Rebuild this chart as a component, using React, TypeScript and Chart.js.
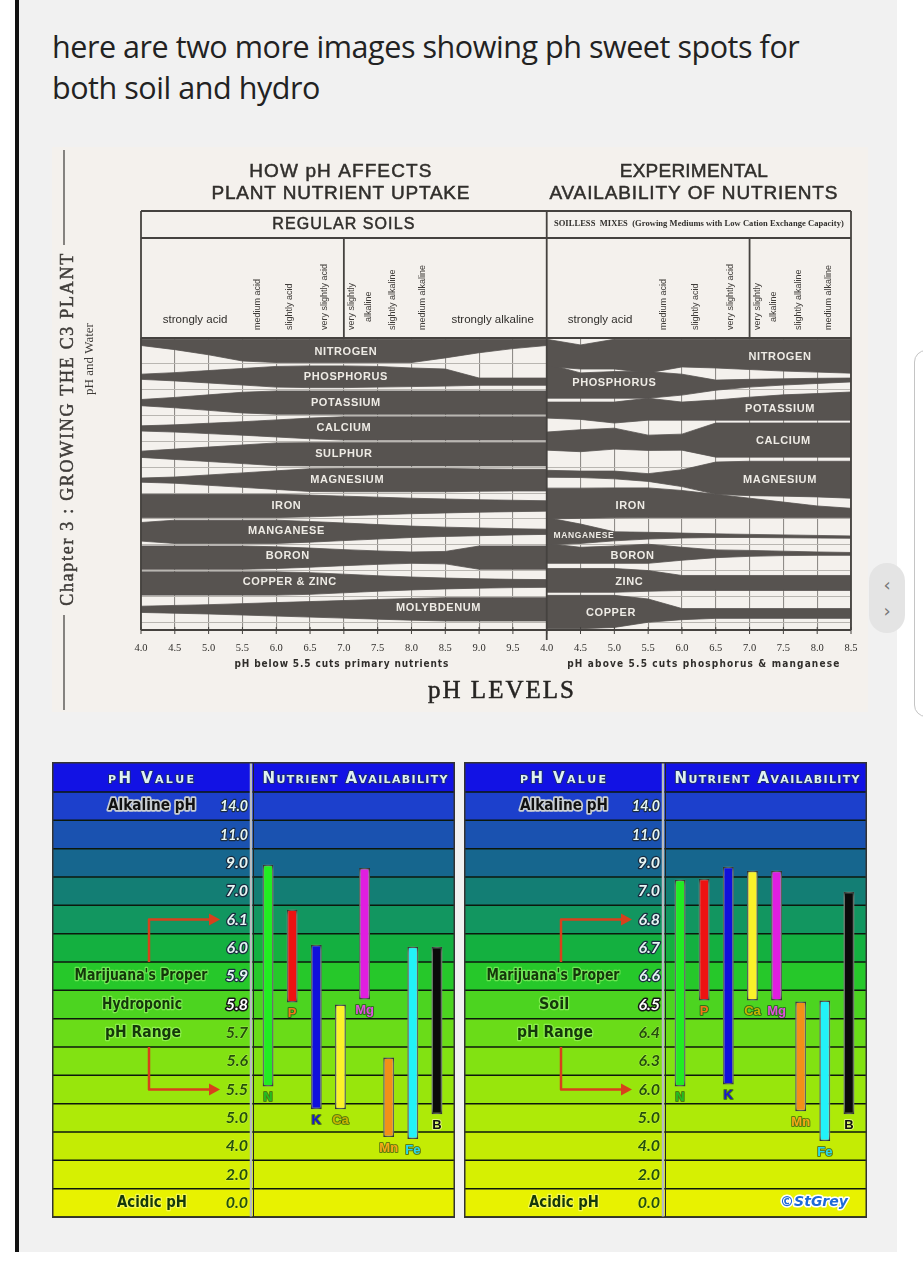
import React, { useEffect, useRef } from "react";
import { Chart, registerables } from "chart.js";
Chart.register(...registerables);

// ================= TOP CHART DATA =================
const SOIL_PH = [4.0, 4.5, 5.0, 5.5, 6.0, 6.5, 7.0, 7.5, 8.0, 8.5, 9.0, 9.5, 10.0];
const MIX_PH = [4.0, 4.5, 5.0, 5.5, 6.0, 6.5, 7.0, 7.5, 8.0, 8.5];
const SOIL_TICKS = ["4.0", "4.5", "5.0", "5.5", "6.0", "6.5", "7.0", "7.5", "8.0", "8.5", "9.0", "9.5"];
const MIX_TICKS = ["4.0", "4.5", "5.0", "5.5", "6.0", "6.5", "7.0", "7.5", "8.0", "8.5"];

const SOIL_NUTRIENTS = ["NITROGEN", "PHOSPHORUS", "POTASSIUM", "CALCIUM", "SULPHUR", "MAGNESIUM", "IRON", "MANGANESE", "BORON", "COPPER & ZINC", "MOLYBDENUM"];
// half thickness of each band (row units) at each SOIL_PH point
const soilN = [0.12, 0.2, 0.3, 0.42, 0.45, 0.45, 0.45, 0.45, 0.45, 0.36, 0.26, 0.18, 0.12];
const soilP = [0.1, 0.16, 0.24, 0.32, 0.4, 0.42, 0.42, 0.4, 0.36, 0.33, 0.14, 0.14, 0.14];
const soilK = [0.12, 0.2, 0.3, 0.4, 0.45, 0.45, 0.45, 0.45, 0.45, 0.45, 0.45, 0.45, 0.45];
const soilCa = [0.1, 0.14, 0.2, 0.26, 0.33, 0.4, 0.45, 0.45, 0.45, 0.45, 0.45, 0.45, 0.45];
const soilS = [0.12, 0.2, 0.28, 0.36, 0.44, 0.45, 0.45, 0.45, 0.45, 0.45, 0.45, 0.45, 0.45];
const soilMg = [0.08, 0.12, 0.2, 0.28, 0.36, 0.44, 0.45, 0.45, 0.45, 0.45, 0.43, 0.42, 0.42];
const soilFe = [0.45, 0.45, 0.45, 0.45, 0.45, 0.42, 0.38, 0.34, 0.3, 0.27, 0.24, 0.22, 0.2];
const soilMn = [0.36, 0.45, 0.45, 0.45, 0.45, 0.4, 0.34, 0.28, 0.22, 0.18, 0.15, 0.12, 0.1];
const soilB = [0.45, 0.45, 0.45, 0.45, 0.42, 0.37, 0.31, 0.26, 0.22, 0.24, 0.45, 0.45, 0.45];
const soilCuZn = [0.45, 0.45, 0.45, 0.45, 0.45, 0.42, 0.36, 0.3, 0.25, 0.21, 0.18, 0.16, 0.15];
const soilMo = [0.12, 0.15, 0.18, 0.22, 0.26, 0.3, 0.34, 0.38, 0.42, 0.45, 0.45, 0.45, 0.45];
// offset of band centre from the row centre (row units, + = down)
const soilNShift = [-0.33, -0.25, -0.15, -0.03, 0, 0, 0, 0, 0, -0.09, -0.19, -0.27, -0.33];
const soilPShift = [0, 0, 0, 0, 0, 0, 0, 0, 0.02, 0.03, 0.19, 0.19, 0.19];

const MIX_NUTRIENTS = ["NITROGEN", "PHOSPHORUS", "POTASSIUM", "CALCIUM", "MAGNESIUM", "IRON", "MANGANESE", "BORON", "ZINC", "COPPER"];
// upper / lower edges of each band (row units from the top) at each MIX_PH point
const mixNTop = [0.05, 0.27, 0.05, 0.05, 0.05, 0.05, 0.05, 0.05, 0.05, 0.05];
const mixNBot = [1.1, 1.2, 1.2, 1.35, 1.12, 1.16, 1.22, 1.28, 1.32, 1.36];
const mixPTop = [1.0, 1.35, 1.3, 1.3, 1.4, 1.63, 1.6, 1.58, 1.56, 1.55];
const mixPBot = [2.33, 2.33, 2.33, 2.33, 2.21, 2.02, 1.9, 1.82, 1.76, 1.7];
const mixKTop = [2.48, 2.48, 2.48, 2.33, 2.48, 2.4, 2.29, 2.2, 2.15, 2.09];
const mixKBot = [3.1, 3.15, 3.29, 3.18, 3.18, 3.18, 3.18, 3.18, 3.18, 3.18];
const mixCaTop = [3.64, 3.55, 3.49, 3.76, 3.72, 3.29, 3.29, 3.29, 3.29, 3.29];
const mixCaBot = [4.34, 4.4, 4.3, 4.35, 4.34, 4.61, 4.61, 4.61, 4.61, 4.61];
const mixMgTop = [5.12, 5.15, 5.15, 5.25, 5.1, 4.8, 4.77, 4.77, 4.77, 4.77];
const mixMgBot = [5.39, 5.4, 5.45, 5.55, 5.75, 6.05, 6.1, 6.12, 6.15, 6.2];
const mixFeTop = [5.81, 5.81, 5.8, 5.8, 5.9, 6.05, 6.2, 6.35, 6.5, 6.59];
const mixFeBot = [7.0, 6.98, 6.96, 6.95, 6.95, 6.95, 6.95, 6.95, 6.95, 6.95];
const mixMnTop = [6.95, 7.2, 7.5, 7.52, 7.55, 7.58, 7.6, 7.62, 7.64, 7.66];
const mixMnBot = [8.0, 7.95, 7.85, 7.78, 7.74, 7.72, 7.72, 7.73, 7.74, 7.75];
const mixBTop = [7.95, 8.1, 8.05, 7.98, 8.1, 8.2, 8.22, 8.25, 8.28, 8.3];
const mixBBot = [8.72, 8.72, 8.72, 8.72, 8.6, 8.5, 8.45, 8.42, 8.41, 8.41];
const mixZnTop = [8.92, 8.92, 8.92, 9.0, 9.19, 9.19, 9.19, 9.19, 9.19, 9.19];
const mixZnBot = [9.84, 9.84, 9.84, 9.8, 9.77, 9.77, 9.77, 9.77, 9.77, 9.77];
const mixCuTop = [9.96, 9.96, 9.96, 10.1, 10.47, 10.47, 10.47, 10.47, 10.47, 10.47];
const mixCuBot = [11.25, 11.25, 11.2, 11.0, 10.9, 10.85, 10.85, 10.85, 10.85, 10.85];

// label anchors (pH, row)
const soilLabelPH = [7.03, 7.03, 7.03, 7.0, 7.0, 7.05, 6.15, 6.15, 6.17, 6.2, 8.4];
const soilLabelRow = [0.55, 1.5, 2.5, 3.5, 4.5, 5.5, 6.5, 7.45, 8.45, 9.45, 10.45];
const mixLabelPH = [7.45, 5.0, 7.45, 7.5, 7.45, 5.24, 4.55, 5.27, 5.22, 4.95];
const mixLabelRow = [0.74, 1.74, 2.75, 4.0, 5.5, 6.5, 7.64, 8.45, 9.46, 10.66];

const SOIL_ZONES = ["medium acid", "slightly acid", "very slightly acid", "very slightly", "alkaline", "slightly alkaline", "medium alkaline"];
const ZONE_PH = [5.72, 6.2, 6.72, 7.12, 7.36, 7.72, 8.17];

// ================= BOTTOM PANELS DATA =================
const NUTRIENT_CODES = ["N", "P", "K", "Ca", "Mg", "Mn", "Fe", "B"];
const HYDRO_ROWS = ["0.0", "2.0", "4.0", "5.0", "5.5", "5.6", "5.7", "5.8", "5.9", "6.0", "6.1", "7.0", "9.0", "11.0", "14.0"];
const SOILPH_ROWS = ["0.0", "2.0", "4.0", "5.0", "6.0", "6.3", "6.4", "6.5", "6.6", "6.7", "6.8", "7.0", "9.0", "11.0", "14.0"];
// bar extents on the row scale (0 = bottom of "0.0" row, 15 = top of "14.0" row)
const hydroLow = [4.61, 7.57, 3.8, 3.8, 7.68, 2.82, 2.75, 3.63];
const hydroHigh = [12.43, 10.85, 9.61, 7.5, 12.32, 5.63, 9.54, 9.54];
const soilLow = [4.61, 7.64, 4.68, 7.64, 7.64, 3.73, 2.68, 3.63];
const soilHigh = [11.9, 11.94, 12.36, 12.22, 12.22, 7.61, 7.64, 11.48];

const BAR_COLORS = ["#22ec22", "#ee1212", "#1010dc", "#fbf22a", "#e01ee0", "#f29018", "#22f2f8", "#0a0a0a"];
const LABEL_COLORS = ["#22c022", "#f07818", "#1818d0", "#c8b400", "#e050e0", "#f8a818", "#28d8f0", "#101010"];
const ROW_COLORS = ["#e8f200", "#d6f002", "#c4ec04", "#aeea08", "#98e60c", "#82e212", "#6adc18", "#4cd420", "#26c82a", "#14b040", "#129660", "#137e74", "#16668e", "#1a52b0", "#1c40cc"];

const BAND = "#575350";
const INK = "#302e2b";
const NARROW = '"Liberation Sans Narrow", "DejaVu Sans Condensed", "Liberation Sans", sans-serif';

function seg(ctx: any, x1: number, y1: number, x2: number, y2: number) {
  ctx.beginPath();
  ctx.moveTo(x1, y1);
  ctx.lineTo(x2, y2);
  ctx.stroke();
}

function fitText(ctx: any, text: string, x: number, y: number, target: number, bold?: boolean) {
  ctx.letterSpacing = "0px";
  const w = ctx.measureText(text).width;
  const n = Math.max(1, text.length - 1);
  const sp = (target - w) / n;
  if (sp > 0) ctx.letterSpacing = sp.toFixed(2) + "px";
  if (bold) {
    ctx.strokeStyle = ctx.fillStyle;
    ctx.lineWidth = 0.5;
    if (sp > 0) ctx.strokeText(text, x, y); else ctx.strokeText(text, x, y, target);
  }
  if (sp > 0) ctx.fillText(text, x, y); else ctx.fillText(text, x, y, target);
  ctx.letterSpacing = "0px";
}

function vText(ctx: any, text: string, x: number, y: number, align: string) {
  ctx.save();
  ctx.translate(x, y);
  ctx.rotate(-Math.PI / 2);
  ctx.textAlign = align;
  ctx.textBaseline = "middle";
  ctx.fillText(text, 0, 0);
  ctx.restore();
}

const topDecor = {
  id: "topDecor",
  afterDraw(chart: any) {
    const { ctx, chartArea: a, scales } = chart;
    const X = (u: number) => scales.x.getPixelForValue(u);
    const Y = (r: number) => scales.y.getPixelForValue(r);
    const sx = (p: number) => X((p - 4) * 2);
    const mx = (p: number) => X(12 + (p - 4) * 2);
    const mid = X(12);
    const bt = a.top - 127;
    const hb = a.top - 100;
    ctx.save();
    // frame
    ctx.strokeStyle = "#45423f";
    ctx.lineWidth = 1.8;
    seg(ctx, a.left, bt, a.right, bt);
    seg(ctx, a.left, hb, a.right, hb);
    seg(ctx, a.left, a.top, a.right, a.top);
    seg(ctx, a.left, bt, a.left, a.bottom);
    seg(ctx, a.right, bt, a.right, a.bottom);
    seg(ctx, mid, bt, mid, a.bottom + 10);
    seg(ctx, sx(7), hb, sx(7), a.top);
    seg(ctx, mx(7), hb, mx(7), a.top);
    seg(ctx, a.left, a.bottom, a.right, a.bottom);
    ctx.lineWidth = 1;
    for (let u = 0; u <= 21; u++) seg(ctx, X(u), a.bottom - 3, X(u), a.bottom + 4);

    // tick labels
    const labels = SOIL_TICKS.concat(MIX_TICKS);
    ctx.fillStyle = INK;
    ctx.textAlign = "center";
    ctx.textBaseline = "middle";
    ctx.font = '10.5px "Liberation Serif", serif';
    labels.forEach((t, u) => ctx.fillText(t, X(u), a.bottom + 18, 14));

    // notes
    ctx.font = "bold 10px " + NARROW;
    fitText(ctx, "pH below 5.5 cuts primary nutrients", (a.left + mid) / 2 - 2, a.bottom + 34, 214);
    fitText(ctx, "pH above 5.5 cuts phosphorus & manganese", (mid + a.right) / 2 + 5, a.bottom + 34, 272);
    ctx.fillStyle = "#262422";
    ctx.font = '25px "Liberation Serif", serif';
    fitText(ctx, "pH LEVELS", (a.left + a.right) / 2 + 6, a.bottom + 61, 146, true);

    // titles
    ctx.fillStyle = INK;
    ctx.font = '19px "Liberation Sans", Arial, sans-serif';
    fitText(ctx, "HOW pH AFFECTS", (a.left + mid) / 2 - 3, a.top - 166, 182, true);
    fitText(ctx, "PLANT NUTRIENT UPTAKE", (a.left + mid) / 2 - 3, a.top - 144, 258, true);
    fitText(ctx, "EXPERIMENTAL", (mid + a.right) / 2 - 5, a.top - 166, 148, true);
    fitText(ctx, "AVAILABILITY OF NUTRIENTS", (mid + a.right) / 2 - 5, a.top - 144, 288, true);
    ctx.font = '16px "Liberation Sans", Arial, sans-serif';
    fitText(ctx, "REGULAR SOILS", (a.left + mid) / 2, a.top - 113, 142, true);
    ctx.font = 'bold 8.5px "Liberation Serif", serif';
    fitText(ctx, "SOILLESS  MIXES  (Growing Mediums with Low Cation Exchange Capacity)", (mid + a.right) / 2, a.top - 114, 290);

    // zone labels
    ctx.font = '11.5px "Liberation Sans", Arial, sans-serif';
    ctx.fillText("strongly acid", sx(4.8), a.top - 18);
    ctx.fillText("strongly alkaline", sx(9.2), a.top - 18);
    ctx.fillText("strongly acid", mx(4.79), a.top - 18);
    ctx.font = '9px "Liberation Sans", Arial, sans-serif';
    ctx.fillStyle = "#3f3c39";
    SOIL_ZONES.forEach((z, i) => {
      const start = i === 4 ? a.top - 16 : a.top - 8;
      vText(ctx, z, sx(ZONE_PH[i]), start, "left");
      vText(ctx, z, mx(ZONE_PH[i]), start, "left");
    });

    // band labels
    ctx.fillStyle = "#eeebe5";
    ctx.font = 'bold 11px "Liberation Sans", Arial, sans-serif';
    ctx.letterSpacing = "0.6px";
    SOIL_NUTRIENTS.forEach((n, i) => ctx.fillText(n, sx(soilLabelPH[i]), Y(soilLabelRow[i])));
    MIX_NUTRIENTS.forEach((n, i) => {
      ctx.font = i === 6 ? 'bold 8.5px "Liberation Sans", Arial, sans-serif' : 'bold 11px "Liberation Sans", Arial, sans-serif';
      ctx.fillText(n, mx(mixLabelPH[i]), Y(mixLabelRow[i]));
    });
    ctx.letterSpacing = "0px";

    // side chapter text
    const cx = 12;
    ctx.strokeStyle = "#4a4744";
    ctx.lineWidth = 1.3;
    seg(ctx, cx, 3, cx, 98);
    seg(ctx, cx, 468, cx, 563);
    ctx.fillStyle = "#3e3b38";
    ctx.font = '18px "Liberation Serif", serif';
    ctx.save();
    ctx.translate(cx + 4, 282);
    ctx.rotate(-Math.PI / 2);
    ctx.textAlign = "center";
    ctx.textBaseline = "middle";
    fitText(ctx, "Chapter 3 : GROWING THE C3 PLANT", 0, 0, 352, true);
    ctx.restore();
    ctx.font = '13px "Liberation Serif", serif';
    vText(ctx, "pH and Water", 38, 212, "center");
    ctx.restore();
  },
};

function TopChart() {
  const ref = useRef<HTMLCanvasElement>(null);
  useEffect(() => {
    const edge = { borderWidth: 0.8, borderColor: BAND, pointRadius: 0, tension: 0 };
    const ds: any[] = [];
    const soilHW = [soilN, soilP, soilK, soilCa, soilS, soilMg, soilFe, soilMn, soilB, soilCuZn, soilMo];
    soilHW.forEach((hw, r) => {
      const shift = r === 0 ? soilNShift : r === 1 ? soilPShift : null;
      const c = (i: number) => r + 0.5 + (shift ? shift[i] : 0);
      ds.push({ ...edge, fill: false, data: SOIL_PH.map((p, i) => ({ x: (p - 4) * 2, y: c(i) - hw[i] })) });
      ds.push({ ...edge, fill: "-1", backgroundColor: BAND, data: SOIL_PH.map((p, i) => ({ x: (p - 4) * 2, y: c(i) + hw[i] })) });
    });
    const mixEdges = [
      [mixNTop, mixNBot], [mixPTop, mixPBot], [mixKTop, mixKBot], [mixCaTop, mixCaBot], [mixMgTop, mixMgBot],
      [mixFeTop, mixFeBot], [mixMnTop, mixMnBot], [mixBTop, mixBBot], [mixZnTop, mixZnBot], [mixCuTop, mixCuBot],
    ];
    mixEdges.forEach(([t, b]) => {
      ds.push({ ...edge, fill: false, data: MIX_PH.map((p, i) => ({ x: 12 + (p - 4) * 2, y: t[i] })) });
      ds.push({ ...edge, fill: "-1", backgroundColor: BAND, data: MIX_PH.map((p, i) => ({ x: 12 + (p - 4) * 2, y: b[i] })) });
    });
    const chart = new Chart(ref.current as HTMLCanvasElement, {
      type: "line",
      data: { datasets: ds },
      options: {
        animation: false,
        responsive: false,
        maintainAspectRatio: false,
        layout: { padding: { left: 89, right: 17, top: 191, bottom: 82 } },
        plugins: { legend: { display: false }, tooltip: { enabled: false } },
        scales: {
          x: {
            type: "linear", min: 0, max: 21,
            afterBuildTicks: (s: any) => { s.ticks = Array.from({ length: 22 }, (_, i) => ({ value: i })); },
            ticks: { display: false },
            grid: { color: "#8f8c88", lineWidth: 1.1, drawTicks: false },
            border: { display: false },
          },
          y: {
            type: "linear", reverse: true, min: 0, max: 11.3,
            afterBuildTicks: (s: any) => { s.ticks = Array.from({ length: 12 }, (_, i) => ({ value: i })); },
            ticks: { display: false },
            grid: { color: "#b9b6b1", lineWidth: 1, drawTicks: false },
            border: { display: false },
          },
        },
      } as any,
      plugins: [topDecor],
    });
    return () => chart.destroy();
  }, []);
  return (
    <canvas ref={ref} width={816} height={565}
      style={{ position: "absolute", left: 52, top: 147, width: 816, height: 565, background: "#f4f1ed" }} />
  );
}

function outlined(ctx: any, text: string, x: number, y: number, fill: string, stroke: string, lw: number, maxW?: number) {
  if (stroke && lw > 0) {
    ctx.strokeStyle = stroke;
    ctx.lineWidth = lw;
    ctx.lineJoin = "round";
    if (maxW) ctx.strokeText(text, x, y, maxW); else ctx.strokeText(text, x, y);
  }
  ctx.fillStyle = fill;
  if (maxW) ctx.fillText(text, x, y, maxW); else ctx.fillText(text, x, y);
}

function smallCaps(ctx: any, text: string, cx: number, y: number, big: number, small: number, target: number) {
  const parts = Array.from(text).map((ch) => {
    const lower = ch !== ch.toUpperCase();
    return { s: ch.toUpperCase(), f: `bold ${lower ? small : big}px "DejaVu Sans", sans-serif`, w: 0 };
  });
  let w = 0;
  parts.forEach((p) => { ctx.font = p.f; p.w = ctx.measureText(p.s).width; w += p.w; });
  const sp = (target - w) / (parts.length - 1);
  let x = cx - target / 2;
  ctx.textAlign = "left";
  ctx.textBaseline = "alphabetic";
  parts.forEach((p) => {
    ctx.font = p.f;
    outlined(ctx, p.s, x, y, "#dff2f0", "#1c2a78", 2);
    x += p.w + sp;
  });
}

function panelDecor(rows: string[], low: number[], sideLabels: string[], signature: boolean) {
  return {
    id: "panelDecor",
    beforeDatasetsDraw(chart: any) {
      const { ctx, chartArea: a, scales } = chart;
      const W = chart.width;
      const Y = (v: number) => scales.y.getPixelForValue(v);
      ctx.save();
      ctx.fillStyle = "#1212e4";
      ctx.fillRect(0, 0, W, a.top);
      rows.forEach((_, i) => {
        ctx.fillStyle = ROW_COLORS[i];
        ctx.fillRect(0, Y(i + 1), W, Y(i) - Y(i + 1));
      });
      ctx.strokeStyle = "#0c180c";
      ctx.lineWidth = 1.5;
      for (let i = 0; i <= rows.length; i++) seg(ctx, 0, Y(i), W, Y(i));
      // column divider
      ctx.strokeStyle = "#b8bcc0";
      ctx.lineWidth = 2.5;
      seg(ctx, 199, 0, 199, chart.height);
      ctx.strokeStyle = "#222";
      ctx.lineWidth = 1;
      seg(ctx, 201.5, 0, 201.5, chart.height);
      ctx.strokeStyle = "#333";
      ctx.lineWidth = 1.5;
      ctx.strokeRect(0.75, 0.75, W - 1.5, chart.height - 1.5);

      // header
      smallCaps(ctx, "pH Value", 99, 21, 15, 11, 86);
      smallCaps(ctx, "Nutrient Availability", 303, 21, 15, 11, 185);

      // pH numbers
      ctx.textAlign = "right";
      ctx.textBaseline = "middle";
      ctx.font = 'italic bold 16px Lato, "Liberation Sans", sans-serif';
      rows.forEach((t, i) => {
        const y = (Y(i) + Y(i + 1)) / 2;
        if (i >= 8) outlined(ctx, t, 196, y, "#e6f6f4", "#1a2c40", 2.5, 28);
        else if (i === 7) outlined(ctx, t, 196, y, "#ffffff", "#161616", 3, 28);
        else outlined(ctx, t, 196, y, "#24500a", "rgba(240,255,170,0.35)", 1, 28);
      });

      // side labels
      ctx.textAlign = "center";
      ctx.font = "bold 16px " + NARROW;
      const rc = (i: number) => (Y(i) + Y(i + 1)) / 2;
      outlined(ctx, sideLabels[0], 100, rc(14), "#111", "#c9ced2", 3.5, 88);
      outlined(ctx, sideLabels[1], 89, rc(8), "#14380a", "rgba(170,255,120,0.55)", 2.5, 133);
      outlined(ctx, sideLabels[2], 90, rc(7), "#14380a", "rgba(170,255,120,0.55)", 2.5, 80);
      outlined(ctx, sideLabels[3], 91, rc(6), "#14380a", "rgba(170,255,120,0.55)", 2.5, 76);
      outlined(ctx, sideLabels[4], 100, rc(0), "#14380a", "rgba(255,255,150,0.55)", 2.5, 70);

      // arrows
      ctx.strokeStyle = "#d8401c";
      ctx.fillStyle = "#d8401c";
      ctx.lineWidth = 2.5;
      const ax = 97;
      const arrow = (y1: number, y2: number) => {
        ctx.beginPath();
        ctx.moveTo(ax, y1);
        ctx.lineTo(ax, y2);
        ctx.lineTo(160, y2);
        ctx.stroke();
        ctx.beginPath();
        ctx.moveTo(168, y2);
        ctx.lineTo(157, y2 - 6);
        ctx.lineTo(157, y2 + 6);
        ctx.closePath();
        ctx.fill();
      };
      arrow(Y(9), rc(10));
      arrow(Y(6), rc(4));

      if (signature) {
        ctx.font = 'italic bold 14px "DejaVu Sans", sans-serif';
        ctx.textAlign = "center";
        outlined(ctx, "©StGrey", 350, rc(0), "#1e6ad8", "#ffffff", 3);
      }
      // glow for bars
      ctx.shadowColor = "rgba(235,255,235,0.95)";
      ctx.shadowBlur = 5;
    },
    afterDatasetsDraw(chart: any) {
      const { ctx, scales } = chart;
      ctx.restore();
      ctx.save();
      const meta = chart.getDatasetMeta(0);
      ctx.textAlign = "center";
      ctx.textBaseline = "middle";
      ctx.font = 'bold 13px "Liberation Sans", Arial, sans-serif';
      NUTRIENT_CODES.forEach((c, i) => {
        const el = meta.data[i];
        const y = scales.y.getPixelForValue(low[i]) + 11;
        outlined(ctx, c, el.x, y, LABEL_COLORS[i], i === 7 ? "rgba(255,255,200,0.6)" : "rgba(20,40,20,0.55)", 2);
      });
      ctx.restore();
    },
  };
}

function PhPanel(props: { left: number; rows: string[]; low: number[]; high: number[]; sideLabels: string[]; signature: boolean }) {
  const ref = useRef<HTMLCanvasElement>(null);
  useEffect(() => {
    const { rows, low, high, sideLabels, signature } = props;
    const chart = new Chart(ref.current as HTMLCanvasElement, {
      type: "bar",
      data: {
        labels: NUTRIENT_CODES,
        datasets: [{
          data: low.map((l, i) => [l, high[i]]),
          backgroundColor: BAR_COLORS,
          borderColor: "#141414",
          borderWidth: 1.5,
          borderSkipped: false,
          barPercentage: 0.45,
          categoryPercentage: 1,
        }],
      },
      options: {
        animation: false,
        responsive: false,
        maintainAspectRatio: false,
        layout: { padding: { left: 204, right: 6, top: 30, bottom: 1 } },
        plugins: { legend: { display: false }, tooltip: { enabled: false } },
        scales: {
          x: { display: false },
          y: { display: false, min: 0, max: 15 },
        },
      } as any,
      plugins: [panelDecor(rows, low, sideLabels, signature)],
    });
    return () => chart.destroy();
  }, []);
  return (
    <canvas ref={ref} width={403} height={456}
      style={{ position: "absolute", left: props.left, top: 762, width: 403, height: 456 }} />
  );
}

export default function App() {
  return (
    <div style={{ position: "absolute", left: 0, top: 0, width: 923, height: 1280, background: "#ffffff", overflow: "hidden" }}>
      <div style={{ position: "absolute", left: 15, top: 0, width: 882, height: 1252, background: "#f1f1f1", borderLeft: "4px solid #111", boxSizing: "border-box" }} />
      <div style={{ position: "absolute", left: 52, top: 26, width: 840, font: '30.5px "Open Sans", sans-serif', lineHeight: "41px", color: "#222", letterSpacing: "-0.45px", whiteSpace: "nowrap" }}>
        here are two more images showing ph sweet spots for<br />both soil and hydro
      </div>
      <TopChart />
      <PhPanel left={52} rows={HYDRO_ROWS} low={hydroLow} high={hydroHigh}
        sideLabels={["Alkaline pH", "Marijuana's Proper", "Hydroponic", "pH Range", "Acidic pH"]} signature={false} />
      <PhPanel left={464} rows={SOILPH_ROWS} low={soilLow} high={soilHigh}
        sideLabels={["Alkaline pH", "Marijuana's Proper", "Soil", "pH Range", "Acidic pH"]} signature={true} />
      <div style={{ position: "absolute", left: 914, top: 350, width: 30, height: 365, border: "1.5px solid #c4c4c4", borderRadius: 12, background: "#fff" }} />
      <div style={{ position: "absolute", left: 869, top: 563, width: 36, height: 70, borderRadius: 18, background: "#e4e4e4", color: "#777", font: '18px "DejaVu Sans", sans-serif', textAlign: "center", lineHeight: "26px", paddingTop: 9, boxSizing: "border-box" }}>
        ‹<br />›
      </div>
    </div>
  );
}
